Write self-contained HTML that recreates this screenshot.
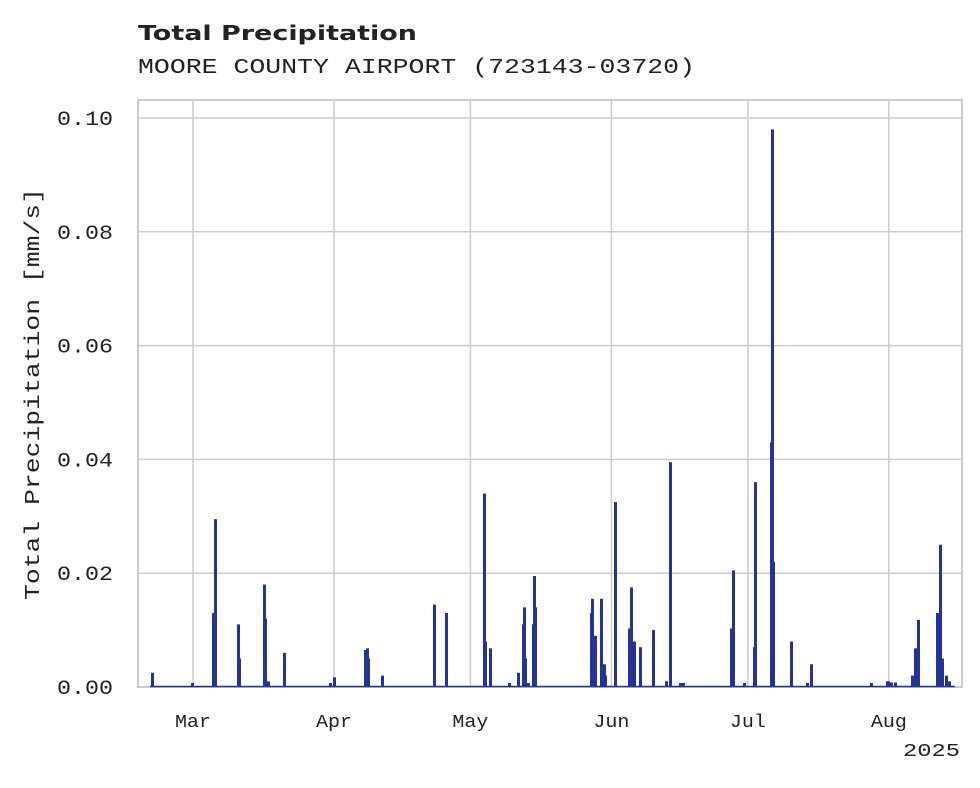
<!DOCTYPE html>
<html><head><meta charset="utf-8"><style>
body{margin:0;background:#fff;width:980px;height:783px;overflow:hidden}
</style></head><body>
<svg width="980" height="783" id="chart">
<text x="138" y="40" font-family="DejaVu Sans, sans-serif" font-weight="bold" font-size="20" fill="#222" textLength="279" lengthAdjust="spacingAndGlyphs">Total Precipitation</text>
<text x="138" y="73" font-family="Liberation Mono, monospace" font-size="21" fill="#222" textLength="557" lengthAdjust="spacingAndGlyphs">MOORE COUNTY AIRPORT (723143-03720)</text>
<g id="grid"></g>
<rect x="138" y="100" width="824" height="587" fill="none" stroke="#ccc" stroke-width="2"/>
<g id="bars"></g>
<g id="yticks"></g>
<g id="xticks"></g>
<text x="960" y="756" text-anchor="end" font-family="Liberation Mono, monospace" font-size="18" fill="#222" textLength="57" lengthAdjust="spacingAndGlyphs">2025</text>
<text transform="translate(39,394) rotate(-90)" text-anchor="middle" font-family="Liberation Mono, monospace" font-size="21" fill="#222" textLength="412" lengthAdjust="spacingAndGlyphs">Total Precipitation [mm/s]</text>
</svg>
<script>
// day offset from Mar 1
const days=[-9.0,-0.2,4.6,4.84,10.1,10.3,15.8,16.05,16.5,20.2,30.3,31.2,38.0,38.3,38.5,41.6,53.2,55.8,64.2,64.4,65.5,69.5,71.5,72.6,72.8,73.0,73.7,74.8,75.0,75.4,87.7,87.95,88.4,89.9,90.4,90.8,93.0,95.9,96.5,97.0,98.3,101.2,104.2,104.9,105.1,107.1,107.9,118.3,118.95,121.2,123.4,123.6,127.3,127.5,127.7,131.7,135.2,136.1,149.1,152.6,153.0,153.5,154.4,158.3,158.8,159.0,159.6,163.8,164.4,164.9,165.6,166.4];
const values=[0.0025,0.0007,0.013,0.0295,0.011,0.005,0.018,0.012,0.001,0.006,0.0007,0.0017,0.0065,0.0068,0.005,0.002,0.0145,0.013,0.034,0.008,0.0068,0.0007,0.0025,0.011,0.014,0.005,0.0007,0.011,0.0195,0.014,0.013,0.0155,0.009,0.0155,0.004,0.002,0.0325,0.0103,0.0175,0.008,0.007,0.010,0.001,0.0395,0.014,0.0007,0.0007,0.0103,0.0205,0.0007,0.007,0.036,0.043,0.098,0.022,0.008,0.0007,0.004,0.0007,0.001,0.001,0.0008,0.0008,0.002,0.0068,0.005,0.0118,0.013,0.025,0.005,0.002,0.001];
const yTicks=[0,0.02,0.04,0.06,0.08,0.10];
const yTickLabels=["0.00","0.02","0.04","0.06","0.08","0.10"];
const monthDays=[0,31,61,92,122,153];
const monthLabels=["Mar","Apr","May","Jun","Jul","Aug"];
const NS="http://www.w3.org/2000/svg";
const xs=d=>193+d*4.548;
const ys=v=>687-v*5690;
const grid=document.getElementById('grid'),bars=document.getElementById('bars'),yt=document.getElementById('yticks'),xt=document.getElementById('xticks');
yTicks.forEach((t,i)=>{
 const l=document.createElementNS(NS,'line');
 
 
 l.setAttribute('x1',138);l.setAttribute('x2',962);l.setAttribute('y1',ys(t));l.setAttribute('y2',ys(t));
 l.setAttribute('stroke','#ccc');l.setAttribute('stroke-width','1.5');grid.appendChild(l);
 const tx=document.createElementNS(NS,'text');
 
 
 tx.setAttribute('x',113);tx.setAttribute('y',ys(t)+7);tx.setAttribute('text-anchor','end');
 tx.setAttribute('textLength','56');tx.setAttribute('lengthAdjust','spacingAndGlyphs');
 tx.setAttribute('font-family','Liberation Mono, monospace');tx.setAttribute('font-size','20');tx.setAttribute('fill','#222');
 tx.textContent=yTickLabels[i];yt.appendChild(tx);
});
monthDays.forEach((d,i)=>{
 const l=document.createElementNS(NS,'line');
 
 
 l.setAttribute('x1',xs(d));l.setAttribute('x2',xs(d));l.setAttribute('y1',100);l.setAttribute('y2',687);
 l.setAttribute('stroke','#ccc');l.setAttribute('stroke-width','1.5');grid.appendChild(l);
 const tx=document.createElementNS(NS,'text');
 
 
 tx.setAttribute('x',xs(d));tx.setAttribute('y',727);tx.setAttribute('text-anchor','middle');
 tx.setAttribute('textLength','36');tx.setAttribute('lengthAdjust','spacingAndGlyphs');
 tx.setAttribute('font-family','Liberation Mono, monospace');tx.setAttribute('font-size','18');tx.setAttribute('fill','#222');
 tx.textContent=monthLabels[i];xt.appendChild(tx);
});
days.forEach((d,i)=>{
 const r=document.createElementNS(NS,'rect');
 
 
 const y=ys(values[i]);
 r.setAttribute('x',Math.round(xs(d)-1.5));r.setAttribute('width',3);r.setAttribute('y',y);r.setAttribute('height',687-y);
 r.setAttribute('fill','#253494');bars.appendChild(r);
});
const base=document.createElementNS(NS,'line');


base.setAttribute('x1',150);base.setAttribute('x2',955);base.setAttribute('y1',686.5);base.setAttribute('y2',686.5);
base.setAttribute('stroke','#253494');base.setAttribute('stroke-width','1.5');bars.appendChild(base);
</script>
</body></html>
